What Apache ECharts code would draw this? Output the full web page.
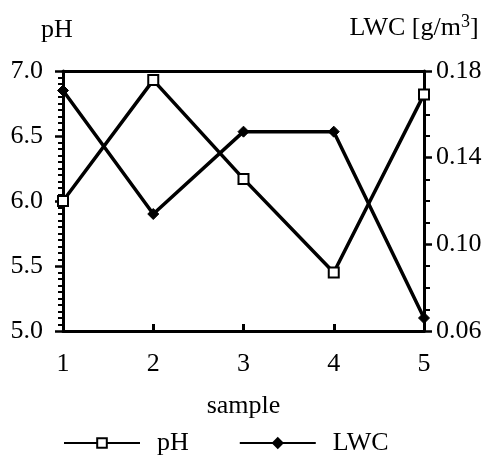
<!DOCTYPE html>
<html><head><meta charset="utf-8">
<script src="https://cdn.jsdelivr.net/npm/echarts@6/dist/echarts.min.js"></script>
<style>html,body{margin:0;padding:0;background:#fff}#c{width:491px;height:461px}</style>
</head><body><div id="c"></div>
<script>
const samples = [1, 2, 3, 4, 5];
const phValues = [6.0, 6.93, 6.17, 5.45, 6.82];
const lwcValues = [0.171, 0.114, 0.152, 0.152, 0.066];
const phTicks = [5.0, 5.5, 6.0, 6.5, 7.0];
const lwcTicks = [0.06, 0.10, 0.14, 0.18];

const F = '"Liberation Serif", "Times New Roman", serif';
const FS = 26;
const chart = echarts.init(document.getElementById('c'), null, {renderer: 'canvas'});
chart.setOption({
  backgroundColor: '#fff',
  animation: false,
  textStyle: {fontFamily: F, color: '#000'},
  grid: {left: 63, right: 67, top: 71, bottom: 130},
  legend: {
    bottom: 0, left: 58,
    itemWidth: 76, itemHeight: 12, itemGap: 50,
    textStyle: {fontFamily: F, fontSize: FS, color: '#000', padding: [0, 0, 0, 12]},
    data: ['pH', 'LWC']
  },
  xAxis: [{
    type: 'value', min: 1, max: 5, interval: 1,
    name: 'sample', nameLocation: 'middle', nameGap: 62,
    nameTextStyle: {fontFamily: F, fontSize: FS, color: '#000'},
    axisLine: {lineStyle: {color: '#000', width: 3}},
    axisTick: {inside: true, length: 7, lineStyle: {color: '#000', width: 3}},
    axisLabel: {fontFamily: F, fontSize: FS, color: '#000', margin: 20},
    splitLine: {show: false}
  }, {
    type: 'value', min: 1, max: 5, position: 'top',
    axisLine: {show: true, lineStyle: {color: '#000', width: 3}},
    axisTick: {show: false}, axisLabel: {show: false}, splitLine: {show: false}
  }],
  yAxis: [{
    type: 'value', min: phTicks[0], max: phTicks[phTicks.length - 1], interval: 0.5,
    name: 'pH', nameLocation: 'end', nameGap: 28,
    nameTextStyle: {fontFamily: F, fontSize: FS, color: '#000', align: 'center', padding: [0, 0, 0, -12]},
    axisLine: {show: true, lineStyle: {color: '#000', width: 3}},
    axisTick: {show: true, length: 8, lineStyle: {color: '#000', width: 2.5}},
    minorTick: {show: true, splitNumber: 10, length: 5, lineStyle: {color: '#000', width: 2}},
    axisLabel: {fontFamily: F, fontSize: FS, color: '#000', margin: 20, formatter: v => v.toFixed(1)},
    splitLine: {show: false}
  }, {
    type: 'value', min: lwcTicks[0], max: lwcTicks[lwcTicks.length - 1], interval: 0.04,
    position: 'right',
    name: 'LWC [g/m{sup|3}]', nameLocation: 'end', nameGap: 28,
    nameTextStyle: {fontFamily: F, fontSize: FS, color: '#000', align: 'center', padding: [0, 0, 0, -20],
      rich: {sup: {fontFamily: F, fontSize: 18, color: '#000', padding: [0, 0, 12, 0]}}},
    axisLine: {show: true, lineStyle: {color: '#000', width: 3}},
    axisTick: {show: true, length: 8, lineStyle: {color: '#000', width: 2.5}},
    minorTick: {show: true, splitNumber: 4, length: 6, lineStyle: {color: '#000', width: 2}},
    axisLabel: {fontFamily: F, fontSize: FS, color: '#000', margin: 12, formatter: v => v.toFixed(2)},
    splitLine: {show: false}
  }],
  series: [{
    name: 'pH', type: 'line', yAxisIndex: 0,
    data: samples.map((s, i) => [s, phValues[i]]),
    symbol: 'rect', symbolSize: 10, showAllSymbol: true,
    lineStyle: {color: '#000', width: 3.5},
    itemStyle: {color: '#fff', borderColor: '#000', borderWidth: 2}, z: 3
  }, {
    name: 'LWC', type: 'line', yAxisIndex: 1,
    data: samples.map((s, i) => [s, lwcValues[i]]),
    symbol: 'diamond', symbolSize: 11, showAllSymbol: true,
    lineStyle: {color: '#000', width: 3.5},
    itemStyle: {color: '#000', borderColor: '#000', borderWidth: 1}, z: 2
  }]
});
</script></body></html>
